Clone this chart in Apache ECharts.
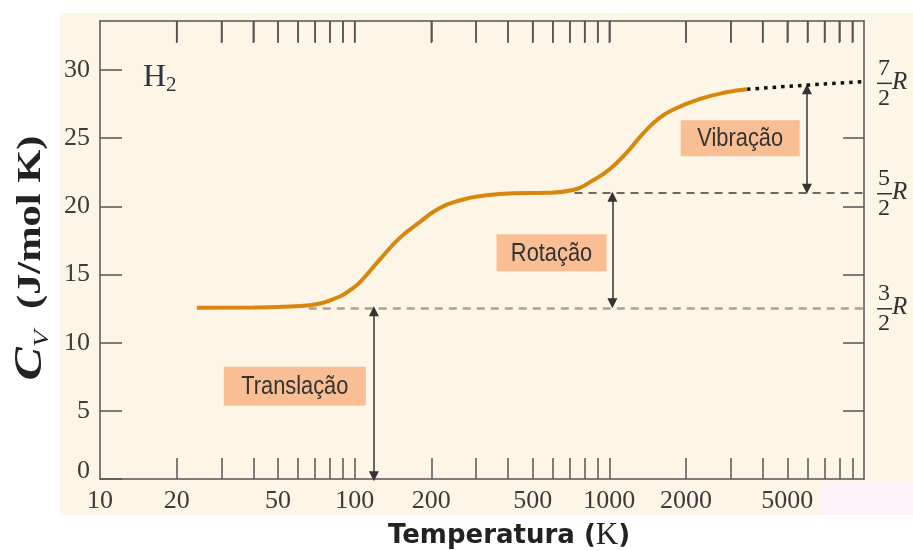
<!DOCTYPE html>
<html><head><meta charset="utf-8">
<script src="https://cdn.jsdelivr.net/npm/echarts@6/dist/echarts.min.js"></script>
<style>html,body{margin:0;padding:0;background:#fff}#c{width:913px;height:551px}</style>
</head><body><div id="c"></div>
<script>
// Cv of H2 vs temperature
const temps = [24, 40, 50, 68, 87, 95, 105, 125, 150, 180, 215, 260, 310, 420, 570, 720, 860, 1000, 1170, 1350, 1570, 1830, 2250, 2880, 3480];
const cv    = [12.56, 12.58, 12.62, 12.76, 13.37, 13.8, 14.45, 16.06, 17.67, 18.84, 19.87, 20.45, 20.75, 20.97, 21.0, 21.2, 21.9, 22.7, 23.95, 25.3, 26.47, 27.2, 27.86, 28.37, 28.59];
const dotTemps = [3480, 6000, 10000];
const dotCv = [28.59, 28.9, 29.15];
const levelNums = ['3', '5', '7'];
const levelDens = ['2', '2', '2'];
const levels = [12.56, 21.0, 29.1];
const levelStartT = [66, 730];
const arrowT = [119, 1028, 5970];
const arrowFrom = [0.2, 12.9, 21.3];
const arrowTo = [12.3, 20.7, 28.6];
const boxT = [58.2, 593, 3266];
const boxCv = [6.8, 16.6, 25.0];
const boxLabels = ['Translação', 'Rotação', 'Vibração'];
const xLabelVals = [10, 20, 50, 100, 200, 500, 1000, 2000, 5000];
const xTickVals = [20, 30, 40, 50, 60, 70, 80, 90, 100, 200, 300, 400, 500, 600, 700, 800, 900, 1000, 2000, 3000, 4000, 5000, 6000, 7000, 8000, 9000];
const yRightTicks = [5, 10, 15, 20, 25];

const chart = echarts.init(document.getElementById('c'), null, {renderer: 'canvas'});
const axisCol = '#555';
const labelFont = {fontFamily: 'Liberation Serif', fontSize: 26, color: '#3c3c3c'};
const boxSizes = [[142, 39], [110, 37], [119, 36]];

function xAxisDef(pos, showLabel) {
  return {
    type: 'log', logBase: 10, min: 10, max: 10000, position: pos, show: true,
    axisLine: {show: true, onZero: false, lineStyle: {color: axisCol, width: 1.5}},
    axisTick: {show: true, inside: true, length: 21, customValues: xTickVals.slice(), lineStyle: {color: axisCol, width: 1.5}},
    axisLabel: showLabel
      ? Object.assign({show: true, margin: 9, customValues: xLabelVals.slice(), formatter: v => String(v)}, labelFont)
      : {show: false},
    splitLine: {show: false}, minorTick: {show: false}
  };
}

chart.setOption({
  animation: false,
  backgroundColor: '#ffffff',
  grid: {left: 100, right: 49, top: 21, bottom: 72, containLabel: false},
  xAxis: [xAxisDef('bottom', true), xAxisDef('top', false)],
  yAxis: [
    {type: 'value', min: 0, max: 33.6, interval: 5, position: 'left',
     axisLine: {show: true, lineStyle: {color: axisCol, width: 1.5}},
     axisTick: {show: true, inside: true, length: 22, lineStyle: {color: axisCol, width: 1.5}},
     axisLabel: Object.assign({margin: 10, showMaxLabel: false,
       formatter: v => v === 0 ? '{z|0}' : String(v),
       rich: {z: {fontFamily: 'Liberation Serif', fontSize: 26, color: '#3c3c3c', padding: [0, 0, 16, 0]}}}, labelFont),
     splitLine: {show: false}},
    {type: 'value', min: 0, max: 33.6, position: 'right',
     axisLine: {show: true, lineStyle: {color: axisCol, width: 1.5}},
     axisTick: {show: true, inside: true, length: 21, customValues: yRightTicks, lineStyle: {color: axisCol, width: 1.5}},
     axisLabel: {show: false}, splitLine: {show: false}}
  ],
  series: [
    {type: 'line', xAxisIndex: 0, yAxisIndex: 0, data: temps.map((t, i) => [t, cv[i]]),
     smooth: 0.5, symbol: 'none', z: 4,
     lineStyle: {color: '#d8870e', width: 4}},
    {type: 'line', xAxisIndex: 1, yAxisIndex: 1, data: dotTemps.map((t, i) => [t, dotCv[i]]), smooth: true, symbol: 'none', z: 5,
     lineStyle: {color: '#111', width: 3.5, type: [3.5, 5], cap: 'butt'}},
    {type: 'line', data: [], z: 3,
     markLine: {silent: true, symbol: 'none', animation: false, label: {show: false},
       data: [
         [{coord: [levelStartT[0], levels[0]], lineStyle: {color: '#a6a297', width: 2.5, type: [8, 6]}}, {coord: [10000, levels[0]]}],
         [{coord: [levelStartT[1], levels[1]], lineStyle: {color: '#3a3a3a', width: 1.5, type: [8, 6]}}, {coord: [10000, levels[1]]}]
       ]}},
    {type: 'line', data: [], z: 3,
     markLine: {silent: true, symbol: ['triangle', 'triangle'], symbolSize: 10, animation: false, label: {show: false},
       lineStyle: {color: '#333', width: 1.5, type: 'solid'},
       data: arrowT.map((t, i) => [{coord: [t, arrowFrom[i]]}, {coord: [t, arrowTo[i]]}])}},
    {type: 'line', data: [], z: 6,
     markPoint: {silent: true, symbol: 'rect', animation: false,
       itemStyle: {color: '#f9be93'},
       label: {show: false},
       data: boxT.map((t, i) => ({name: boxLabels[i], coord: [t, boxCv[i]], symbolSize: boxSizes[i]}))}}
  ]
});

const x0 = chart.convertToPixel({xAxisIndex: 0}, 10000);
const extraEls = [];
levels.forEach((v, i) => {
  const y = chart.convertToPixel({yAxisIndex: 0}, v) + 1;
  extraEls.push(
    {type: 'text', x: x0 + 20, y: y - 15, z: 10, style: {text: levelNums[i], fontFamily: 'Liberation Serif', fontSize: 24, fill: '#333', align: 'center', verticalAlign: 'middle'}},
    {type: 'line', z: 10, shape: {x1: x0 + 13, y1: y, x2: x0 + 28, y2: y}, style: {stroke: '#333', lineWidth: 1.5}},
    {type: 'text', x: x0 + 20, y: y + 15, z: 10, style: {text: levelDens[i], fontFamily: 'Liberation Serif', fontSize: 24, fill: '#333', align: 'center', verticalAlign: 'middle'}},
    {type: 'text', x: x0 + 28, y: y - 1, z: 10, style: {text: 'R', fontFamily: 'Liberation Serif', fontStyle: 'italic', fontSize: 25, fill: '#333', align: 'left', verticalAlign: 'middle'}}
  );
});
boxLabels.forEach((name, i) => {
  const p = chart.convertToPixel({xAxisIndex: 0, yAxisIndex: 0}, [boxT[i], boxCv[i]]);
  extraEls.push({type: 'text', x: p[0], y: p[1] + 1, scaleX: 0.84, z: 30,
    style: {text: name, fontFamily: 'Liberation Sans', fontSize: 26, fill: '#333', align: 'center', verticalAlign: 'middle'}});
});
// top-axis ticks (mirrors of bottom ticks), placed through the top axis scale
const yTop = chart.convertToPixel({yAxisIndex: 0}, 33.6);
xTickVals.forEach(t => {
  const px = chart.convertToPixel({xAxisIndex: 1}, t);
  extraEls.push({type: 'line', z: 10, silent: true, shape: {x1: px, y1: yTop, x2: px, y2: yTop + 22}, style: {stroke: axisCol, lineWidth: 1.5}});
});

chart.setOption({
  graphic: [
    {type: 'rect', z: -10, silent: true, shape: {x: 60, y: 13, width: 853, height: 502}, style: {fill: '#fdf5e6'}},
    {type: 'rect', z: 20, silent: true, shape: {x: 822, y: 481, width: 91, height: 34}, style: {fill: '#fcf4f8'}},
    {type: 'text', x: 143, y: 78, z: 10, style: {text: '{h|H}{s|2}', verticalAlign: 'middle', align: 'left',
      rich: {h: {fontFamily: 'Liberation Serif', fontSize: 32, fill: '#2c3440', lineHeight: 36},
             s: {fontFamily: 'Liberation Serif', fontSize: 21, fill: '#2c3440', verticalAlign: 'bottom', lineHeight: 36}}}},
    {type: 'text', x: 31, y: 258, rotation: Math.PI / 2, scaleX: 1.25, z: 10,
     style: {text: '{c|C}{v|V}{t|  (J/mol K)}', align: 'center', verticalAlign: 'middle',
      rich: {c: {fontFamily: 'Liberation Serif', fontStyle: 'italic', fontWeight: 'bold', fontSize: 40, fill: '#222', lineHeight: 44},
             v: {fontFamily: 'Liberation Serif', fontStyle: 'italic', fontSize: 22, fill: '#222', verticalAlign: 'bottom', lineHeight: 44},
             t: {fontFamily: 'Liberation Serif', fontWeight: 'bold', fontSize: 34, fill: '#222', lineHeight: 44}}}},
    {type: 'text', x: 509, y: 536, z: 10,
     style: {text: '{a|Temperatura (}{k|K}{a|)}', align: 'center', verticalAlign: 'middle',
      rich: {a: {fontFamily: 'DejaVu Sans', fontWeight: 'bold', fontSize: 26, fill: '#222', lineHeight: 32},
             k: {fontFamily: 'Liberation Serif', fontSize: 31, fill: '#222', lineHeight: 32}}}}
  ].concat(extraEls)
});
</script></body></html>
